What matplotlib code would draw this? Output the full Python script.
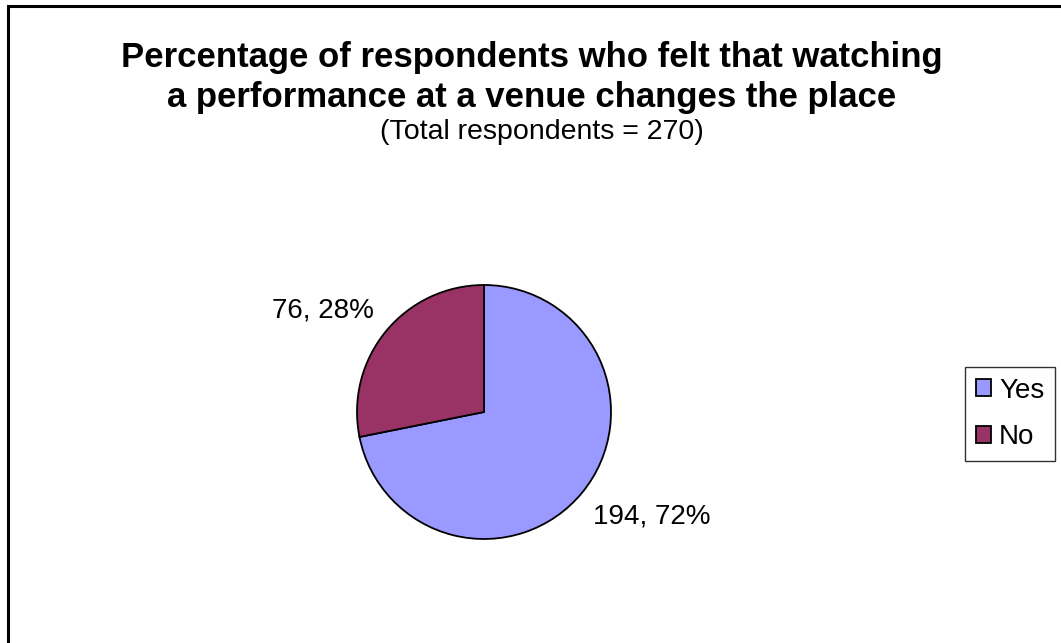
import matplotlib
matplotlib.use("Agg")
import matplotlib.pyplot as plt
from matplotlib.patches import Rectangle, Patch

plt.rcParams['font.family'] = ['Liberation Sans', 'DejaVu Sans']

categories = ["Yes", "No"]
counts = [194, 76]
colors = ["#9999FF", "#993366"]
title_lines = ["Percentage of respondents who felt that watching",
               "a performance at a venue changes the place"]
subtitle = "(Total respondents = 270)"

W, H = 1061, 643
fig = plt.figure(figsize=(W / 100, H / 100), dpi=100)
fig.patch.set_facecolor("white")

# outer chart frame (right/bottom edges run off the canvas)
fig.patches.append(Rectangle((7.5 / W, -0.1), 1.2, 1.1 - 6.5 / H,
                             transform=fig.transFigure, fill=False,
                             edgecolor="black", linewidth=2.2))

# titles
fig.text(532 / W, 1 - 58 / H, title_lines[0], ha="center", va="center",
         fontsize=25, fontweight="bold")
fig.text(532 / W, 1 - 98 / H, title_lines[1], ha="center", va="center",
         fontsize=25, fontweight="bold")
fig.text(542 / W, 1 - 132 / H, subtitle, ha="center", va="center",
         fontsize=20.5)

# pie axes: centre (484, 412) px, radius 127 px
cx, cy, r = 484, 412, 127
half = 220
ax = fig.add_axes([(cx - half) / W, 1 - (cy + half) / H, 2 * half / W, 2 * half / H])

wedges, _ = ax.pie(counts, colors=colors, startangle=90, counterclock=False,
                   radius=1.0, wedgeprops=dict(edgecolor="black", linewidth=1.3))
ax.set_xlim(-half / r, half / r)
ax.set_ylim(-half / r, half / r)
ax.set_aspect("equal")
ax.axis("off")

total = sum(counts)
label_pos = [(1.32, -0.82), (-1.27, 0.80)]
for v, (lx, ly) in zip(counts, label_pos):
    ax.text(lx, ly, f"{v}, {round(100 * v / total)}%", ha="center", va="center",
            fontsize=20)

# legend
handles = [Patch(facecolor=c, edgecolor="black", linewidth=1.3) for c in colors]
leg = fig.legend(handles, categories, loc="upper left",
                 bbox_to_anchor=(965 / W, 1 - 367 / H), frameon=True,
                 fontsize=20, handlelength=0.55, handleheight=0.55,
                 handletextpad=0.3, labelspacing=0.75, borderpad=0.38,
                 fancybox=False, borderaxespad=0)
leg.get_frame().set_edgecolor("black")
leg.get_frame().set_linewidth(1.0)

fig.savefig("out.png", dpi=100, facecolor="white")
